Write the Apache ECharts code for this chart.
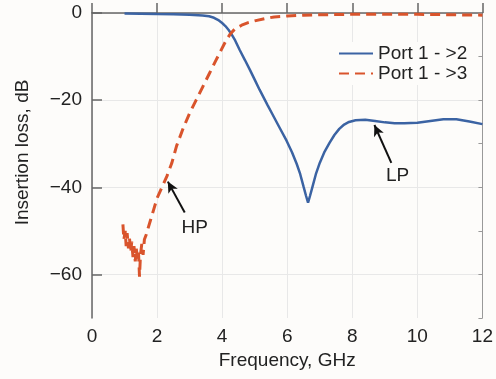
<!DOCTYPE html>
<html>
<head>
<meta charset="utf-8">
<script src="https://cdn.jsdelivr.net/npm/echarts@6/dist/echarts.min.js"></script>
<style>
  html, body { margin: 0; padding: 0; background: #fdfcfa; }
  #chart { width: 496px; height: 379px; }
</style>
</head>
<body>
<div id="chart"></div>
<script>
// Port 1 -> 2 (low pass)
const freqLP = [1.0, 1.5, 2.0, 2.5, 3.0, 3.4, 3.6, 3.75, 3.9, 4.0, 4.1, 4.2, 4.3, 4.4, 4.54, 4.7, 4.85, 5.0, 5.15, 5.4,
  5.55, 5.75, 5.98, 6.15, 6.29, 6.4, 6.5, 6.58, 6.64, 6.7, 6.78, 6.88, 7.0, 7.15, 7.3, 7.45, 7.6, 7.75, 7.9, 8.1,
  8.4, 8.7, 9.0, 9.3, 9.6, 10.0, 10.4, 10.8, 11.2, 11.6, 12.0];
const lossLP = [-0.1, -0.15, -0.25, -0.3, -0.4, -0.55, -0.75, -1.1, -1.7, -2.3, -3.0, -3.9, -5.0, -6.3, -8.5, -10.8, -13, -15.3, -17.6, -21.2,
  -23.3, -26.1, -29.3, -32, -34.6, -37, -39.8, -42, -43.5, -42, -39.8, -37, -34.4, -31.8, -29.8, -28, -26.6, -25.6, -25, -24.6,
  -24.5, -24.8, -25.1, -25.3, -25.3, -25.2, -24.8, -24.4, -24.4, -24.9, -25.5];

// Port 1 -> 3 (high pass)
const freqHP = [0.95, 0.98, 1.02, 1.05, 1.08, 1.12, 1.15, 1.19, 1.22, 1.26, 1.29, 1.33, 1.36, 1.4, 1.43, 1.46, 1.49, 1.53, 1.57, 1.61,
  1.66, 1.72, 1.8, 1.9, 2.0, 2.15, 2.3, 2.45, 2.6, 2.8, 3.0, 3.2, 3.4, 3.6, 3.8, 3.95, 4.1, 4.25, 4.4, 4.6,
  4.8, 5.0, 5.3, 5.6, 6.0, 6.5, 7.0, 8.0, 9.0, 10.0, 11.0, 12.0];
const lossHP = [-48.5, -52, -50, -53.5, -50.5, -54, -51.5, -55, -52.5, -56, -53.5, -57, -54, -56.5, -55, -60.5, -55.5, -53, -55.5, -52,
  -51, -49.5, -47.5, -45, -42.5, -40, -37.5, -34.5, -30.5, -26.5, -23, -20, -17, -14, -11, -8.8, -6.6, -4.8, -3.6, -2.8,
  -2.2, -1.8, -1.3, -0.9, -0.7, -0.5, -0.4, -0.3, -0.3, -0.3, -0.4, -0.5];

const seriesNames = ['Port 1 - >2', 'Port 1 - >3'];
const yTickLabels = [0, -20, -40, -60];

// annotations (data coords): arrow tail, arrow head, text position
const hpArrow = [[2.85, -45.8], [2.33, -38.7]];
const hpText = [3.16, -49.3];
const lpArrow = [[9.2, -34.4], [8.68, -25.7]];
const lpText = [9.39, -37.3];

const font = 'Liberation Sans, Arial, sans-serif';
const axisColor = '#666';

const zip = (xs, ys) => xs.map((x, i) => [x, ys[i]]);

const arrowLine = (a) => ({
  silent: true,
  symbol: ['none', 'arrow'],
  symbolSize: [8, 11],
  label: { show: false },
  lineStyle: { color: '#111', width: 2, type: 'solid' },
  data: [[{ coord: a[0] }, { coord: a[1] }]]
});

const textPoint = (name, pos) => ({
  silent: true,
  symbol: 'circle',
  symbolSize: 0,
  label: { show: true, position: 'inside', formatter: name, fontSize: 19, fontFamily: font, color: '#222' },
  data: [{ name: name, coord: pos }]
});

const chart = echarts.init(document.getElementById('chart'));
chart.setOption({
  animation: false,
  backgroundColor: '#fdfcfa',
  textStyle: { fontFamily: font },
  grid: { left: 92, right: 13, top: 13, bottom: 61 },
  legend: {
    orient: 'vertical',
    left: 334,
    top: 42,
    itemWidth: 34,
    itemHeight: 14,
    itemGap: 1,
    padding: [2, 4, 2, 4],
    backgroundColor: '#fdfcfa',
    itemStyle: { opacity: 0 },
    textStyle: { fontSize: 19, color: '#222', fontFamily: font },
    data: seriesNames
  },
  xAxis: {
    type: 'value',
    min: 0, max: 12, interval: 2,
    name: 'Frequency, GHz',
    nameLocation: 'middle',
    nameGap: 24,
    nameTextStyle: { fontSize: 19, color: '#222' },
    axisLine: { lineStyle: { color: axisColor, width: 1.5 } },
    axisTick: { inside: true, length: 10, lineStyle: { color: axisColor, width: 1.5 } },
    axisLabel: { fontSize: 19, color: '#222', margin: 9 },
    splitLine: { show: true, lineStyle: { color: '#e8e8e8', width: 1 } }
  },
  yAxis: [{
    type: 'value',
    min: -70, max: 0, interval: 10,
    name: 'Insertion loss, dB',
    nameLocation: 'middle',
    nameGap: 60,
    nameTextStyle: { fontSize: 19, color: '#222', padding: [0, 0, 0, 26] },
    axisLine: { show: true, lineStyle: { color: axisColor, width: 1.5 } },
    axisTick: { show: true, inside: true, length: 10, customValues: yTickLabels, lineStyle: { color: axisColor, width: 1.5 } },
    axisLabel: {
      fontSize: 19, color: '#222', margin: 10,
      customValues: yTickLabels,
      formatter: v => (v === 0 ? '0' : '\u2212' + Math.abs(v))
    },
    splitLine: { show: true, lineStyle: { color: '#e8e8e8', width: 1 } }
  }, {
    type: 'value',
    position: 'right',
    min: -70, max: 0, interval: 10,
    axisLine: { show: true, lineStyle: { color: '#999', width: 1 } },
    axisTick: { show: true, inside: true, length: 4, lineStyle: { color: '#999' } },
    axisLabel: { show: false },
    splitLine: { show: false }
  }],
  series: [{
    name: seriesNames[0],
    type: 'line',
    data: zip(freqLP, lossLP),
    showSymbol: false,
    symbol: 'none',
    lineStyle: { color: '#3b63a3', width: 2.5 },
    itemStyle: { color: '#3b63a3' },
    emphasis: { disabled: true },
    markLine: arrowLine(lpArrow),
    markPoint: textPoint('LP', lpText)
  }, {
    name: seriesNames[1],
    type: 'line',
    data: zip(freqHP, lossHP),
    showSymbol: false,
    symbol: 'none',
    lineStyle: { color: '#d9542c', width: 3, type: [10, 6] },
    itemStyle: { color: '#d9542c' },
    emphasis: { disabled: true },
    markLine: arrowLine(hpArrow),
    markPoint: textPoint('HP', hpText)
  }]
});
</script>
</body>
</html>
